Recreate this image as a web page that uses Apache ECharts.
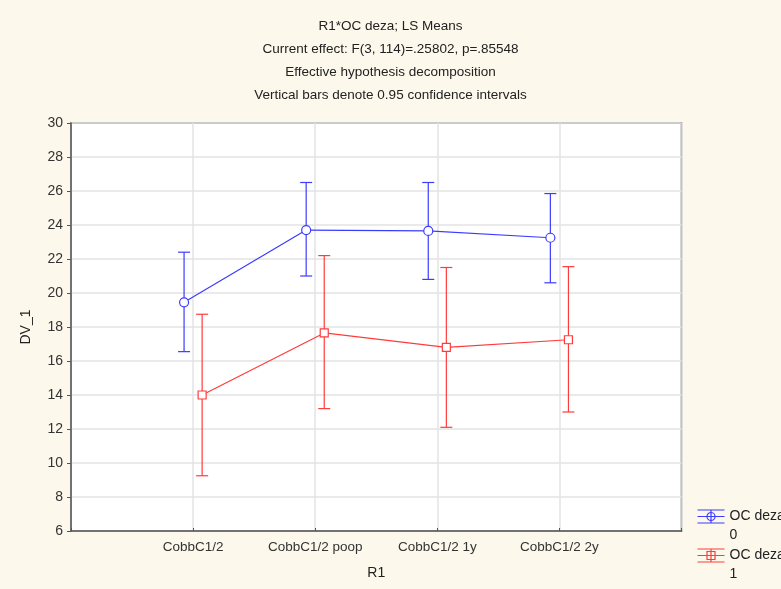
<!DOCTYPE html>
<html>
<head>
<meta charset="utf-8">
<script src="https://cdn.jsdelivr.net/npm/echarts@6/dist/echarts.min.js"></script>
<style>
html,body{margin:0;padding:0;background:#fdf8ec;}
#chart{width:781px;height:589px;}
</style>
</head>
<body>
<div id="chart"></div>
<script>
var categories = ['CobbC1/2', 'CobbC1/2 poop', 'CobbC1/2 1y', 'CobbC1/2 2y'];
var seriesNames = ['OC deza\n0', 'OC deza\n1'];
var mean0 = [19.45, 23.7, 23.65, 23.25];
var lo0 = [16.55, 21.0, 20.8, 20.6];
var hi0 = [22.4, 26.5, 26.5, 25.85];
var mean1 = [14.0, 17.65, 16.8, 17.25];
var lo1 = [9.25, 13.2, 12.1, 13.0];
var hi1 = [18.75, 22.2, 21.5, 21.55];
var yTicks = [6, 8, 10, 12, 14, 16, 18, 20, 22, 24, 26, 28, 30];

var BLUE = '#3c3cff', RED = '#ff3c3c';
var offsets = [-0.074, 0.074];
var FONT = '"Liberation Sans", Arial, sans-serif';

function pts(means, k) {
  return means.map(function (v, i) { return [i + 1 + offsets[k], v]; });
}
function bars(lo, hi, k) {
  return lo.map(function (v, i) { return [i + 1 + offsets[k], v, hi[i]]; });
}
function errRender(color) {
  return function (params, api) {
    var x = api.value(0);
    var p1 = api.coord([x, api.value(1)]);
    var p2 = api.coord([x, api.value(2)]);
    var hw = 6;
    var st = { stroke: color, lineWidth: 1.2 };
    return {
      type: 'group',
      children: [
        { type: 'line', shape: { x1: p1[0], y1: p1[1], x2: p2[0], y2: p2[1] }, style: st },
        { type: 'line', shape: { x1: p1[0] - hw, y1: p1[1], x2: p1[0] + hw, y2: p1[1] }, style: st },
        { type: 'line', shape: { x1: p2[0] - hw, y1: p2[1], x2: p2[0] + hw, y2: p2[1] }, style: st }
      ]
    };
  };
}

var iconBase = 'M0,0 L27,0 M0,6.5 L27,6.5 M0,13 L27,13 M13.5,0 L13.5,13 ';
var iconCircle = 'path://' + iconBase + 'M17.5,6.5 A4,4 0 1 1 9.5,6.5 A4,4 0 1 1 17.5,6.5 Z';
var iconSquare = 'path://' + iconBase + 'M9.5,2.5 L17.5,2.5 L17.5,10.5 L9.5,10.5 Z';

var chart = echarts.init(document.getElementById('chart'));
chart.setOption({
  backgroundColor: '#fdf8ec',
  animation: false,
  textStyle: { fontFamily: FONT },
  title: {
    text: 'R1*OC deza; LS Means\nCurrent effect: F(3, 114)=.25802, p=.85548\nEffective hypothesis decomposition\nVertical bars denote 0.95 confidence intervals',
    left: 'center',
    top: 14.5,
    padding: 0,
    textStyle: { fontSize: 13.5, fontWeight: 'normal', color: '#222', lineHeight: 23, fontFamily: FONT }
  },
  legend: {
    orient: 'vertical',
    left: 695,
    top: 488,
    padding: 0,
    itemWidth: 27,
    itemHeight: 13,
    itemGap: -18,
    formatter: function (name) { return '\u200b\n' + name; },
    textStyle: { fontSize: 14, color: '#222', lineHeight: 19, fontFamily: FONT },
    data: [
      { name: seriesNames[0], icon: iconCircle, itemStyle: { color: 'none', borderColor: BLUE, borderWidth: 1.2 } },
      { name: seriesNames[1], icon: iconSquare, itemStyle: { color: 'none', borderColor: RED, borderWidth: 1.2 } }
    ]
  },
  grid: {
    left: 71, top: 123, right: 99.5, bottom: 58,
    show: true, backgroundColor: '#ffffff', borderColor: '#5e5e5e', borderWidth: 1.5
  },
  xAxis: {
    type: 'value', min: 0, max: 5, interval: 1,
    name: 'R1', nameLocation: 'middle', nameGap: 35,
    nameTextStyle: { fontSize: 14, color: '#222', fontFamily: FONT },
    axisLine: { show: true, lineStyle: { color: '#555', width: 1.5 } },
    axisTick: { show: true, inside: true, length: 3, lineStyle: { color: '#555' } },
    axisLabel: {
      fontSize: 13.5, color: '#333', margin: 9, fontFamily: FONT,
      formatter: function (v) { return categories[v - 1] || ''; }
    },
    splitLine: { show: true, lineStyle: { color: '#e3e3e3', width: 1.5 } }
  },
  yAxis: {
    type: 'value', min: yTicks[0], max: yTicks[yTicks.length - 1], interval: 2,
    name: 'DV_1', nameLocation: 'middle', nameGap: 38,
    nameTextStyle: { fontSize: 14, color: '#222', fontFamily: FONT },
    axisLine: { show: true, lineStyle: { color: '#555', width: 1.5 } },
    axisTick: { show: true, inside: false, length: 4, lineStyle: { color: '#555' } },
    axisLabel: { fontSize: 14, color: '#333', margin: 8, fontFamily: FONT },
    splitLine: { show: true, lineStyle: { color: '#e3e3e3', width: 1.5 } }
  },
  series: [
    {
      name: seriesNames[0], type: 'line', data: pts(mean0, 0),
      symbol: 'circle', symbolSize: 9, showAllSymbol: true, z: 5,
      lineStyle: { color: BLUE, width: 1.2 },
      itemStyle: { color: '#ffffff', borderColor: BLUE, borderWidth: 1.2, opacity: 1 }
    },
    {
      name: seriesNames[1], type: 'line', data: pts(mean1, 1),
      symbol: 'rect', symbolSize: 8, showAllSymbol: true, z: 5,
      lineStyle: { color: RED, width: 1.2 },
      itemStyle: { color: '#ffffff', borderColor: RED, borderWidth: 1.2, opacity: 1 }
    },
    {
      name: seriesNames[0], type: 'custom', data: bars(lo0, hi0, 0),
      renderItem: errRender(BLUE), encode: { x: 0, y: [1, 2] }, z: 3
    },
    {
      name: seriesNames[1], type: 'custom', data: bars(lo1, hi1, 1),
      renderItem: errRender(RED), encode: { x: 0, y: [1, 2] }, z: 3
    }
  ]
});
</script>
</body>
</html>
